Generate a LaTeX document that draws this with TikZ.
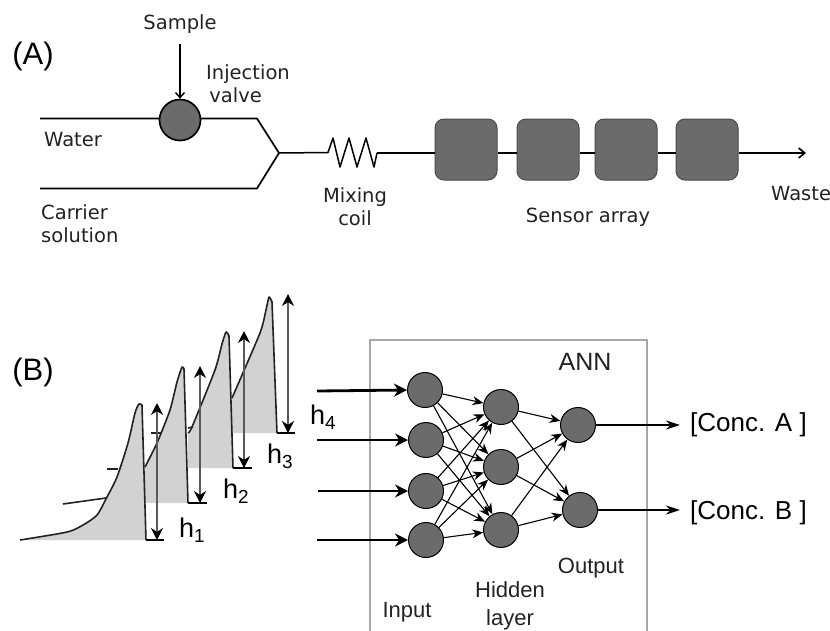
\documentclass[tikz,border=0pt]{standalone}
\usepackage{fontspec}
\setmainfont{Liberation Sans}
\newfontfamily\vfont{DejaVu Sans}
\usetikzlibrary{arrows.meta}
\definecolor{nodegrey}{HTML}{6B6B6B}
\definecolor{peakgrey}{HTML}{D2D2D2}
\definecolor{boxgrey}{HTML}{A8A8A8}
\definecolor{inkc}{HTML}{222222}
\tikzset{
  lbl/.style={inner sep=0pt,text=inkc,font=\vfont\fontsize{19.5}{23}\selectfont,align=left},
  alab/.style={inner sep=0pt,text=black,font=\fontsize{31}{34}\selectfont},
  annlab/.style={inner sep=0pt,text=inkc,font=\fontsize{22}{28}\selectfont,align=center},
  annttl/.style={inner sep=0pt,text=inkc,font=\fontsize{25}{28}\selectfont},
  conc/.style={inner sep=0pt,text=black,anchor=west,font=\fontsize{26}{30}\selectfont},
  hlab/.style={inner sep=0pt,text=black,anchor=west,font=\fontsize{27}{30}\selectfont},
  pipe/.style={draw=black,line width=1.7pt,line join=round},
  neuron/.style={circle,draw=black,fill=nodegrey,line width=1pt,minimum size=35pt,inner sep=0pt},
  valve/.style={circle,draw=black,fill=nodegrey,line width=1.7pt,minimum size=41pt,inner sep=0pt},
  sensor/.style={rounded corners=9pt,draw=black!70,fill=nodegrey,line width=1pt,minimum width=62pt,minimum height=61pt,inner sep=0pt},
  syn/.style={draw=black,line width=1.1pt,-{Stealth[length=11pt,width=9pt]}},
  inln/.style={draw=black,-{Stealth[length=13pt,width=13pt]}},
  outln/.style={draw=black,-{Stealth[length=14pt,width=9pt]}},
  peak/.style={fill=peakgrey,draw=none},
  curve/.style={draw=inkc,line width=1.6pt,line join=round},
  base/.style={draw=black,line width=1.8pt},
  harrow/.style={draw=black!65,line width=1.3pt,{Stealth[length=12pt,width=12pt,color=black]}-{Stealth[length=12pt,width=12pt,color=black]}},
}
\newcommand{\peakone}{plot[smooth,tension=0.45] coordinates {(20,540) (67,532) (83,525) (97,515) (107,497) (117,477) (128,443) (135,413) (139,404) (142,405)} -- (146,540)}
\newcommand{\peaktwo}{plot[smooth,tension=0.35] coordinates {(145,467) (157,443) (170,410) (177,382) (182,367) (184,369)} -- (188,503)}
\newcommand{\peakthree}{plot[smooth,tension=0.35] coordinates {(188,433) (192,427) (215,370) (222,344) (226,332) (229,336)} -- (233,468)}
\newcommand{\peakfour}{plot[smooth,tension=0.35] coordinates {(232,398) (260,333) (266,310) (269,297) (272,302)} -- (277,433)}
\begin{document}
\begin{tikzpicture}[x=1pt,y=-1pt]
\useasboundingbox (0,0) rectangle (830,630);
% ---------- Part A
\node[alab] (labA) at (33,56) {(A)};
\node[lbl] (sample) at (180,24) {Sample};
\node[lbl,anchor=west] (inj) at (206,84) {Injection\\\,valve};
\node[lbl,anchor=west] (water) at (44,140) {Water};
\node[lbl,anchor=west] (carrier) at (41,224) {Carrier\\solution};
\node[lbl,align=center] (mixing) at (355,207) {Mixing\\coil};
\node[lbl] (sarr) at (588,217) {Sensor array};
\node[lbl,anchor=west] (waste) at (771,194) {Waste};
\coordinate (wIn) at (40,118.5);
\coordinate (cIn) at (40,188.5);
\coordinate (wBend) at (257,118.5);
\coordinate (cBend) at (257,188.5);
\coordinate (join) at (279,153);
\coordinate (wasteEnd) at (806,153);
\coordinate (sampleEnd) at (180,44);
\draw[pipe] (wIn) -- (wBend) -- (join);
\draw[pipe] (cIn) -- (cBend) -- (join);
\node[valve] (valveN) at (180,120) {};
\draw[draw=black,line width=1.5pt,-{Straight Barb[length=5pt,width=9pt]}] (sampleEnd) -- (valveN.north);
\draw[pipe,line width=1.5pt] (join) -- (328,152.5) -- (333,138) -- (340,167) -- (349,138) -- (357,167) -- (366,138) -- (374,167) -- (377,153) coordinate (coilEnd);
\node[sensor] (s1) at (466,149.5) {};
\node[sensor] (s2) at (548,149.5) {};
\node[sensor] (s3) at (626,149.5) {};
\node[sensor] (s4) at (707,149.5) {};
\draw[pipe] (coilEnd) -- (s1.west|-coilEnd);
\draw[pipe] (s1.east|-coilEnd) -- (s2.west|-coilEnd);
\draw[pipe] (s2.east|-coilEnd) -- (s3.west|-coilEnd);
\draw[pipe] (s3.east|-coilEnd) -- (s4.west|-coilEnd);
\draw[pipe,-{Straight Barb[length=6pt,width=10pt]}] (s4.east|-coilEnd) -- (wasteEnd);
% ---------- Part B: peaks
\node[alab] (labB) at (33,372) {(B)};
\fill[peak] \peakfour -- (232,433) -- cycle;
\fill[peak] \peakthree -- (188,468) -- cycle;
\fill[peak] \peaktwo -- (145,503) -- cycle;
\fill[peak] \peakone -- cycle;
\draw[curve] (63,504) -- (106,498);
\draw[curve] (107,469) -- (118,469);
\draw[curve] (151,433) -- (161,433);
\draw[curve] (188,428) -- (193,427);
\draw[curve] \peakone;
\draw[curve] \peaktwo;
\draw[curve] \peakthree;
\draw[curve] \peakfour;
\draw[base] (146,540) -- (164,540);
\draw[base] (188,503) -- (207,503);
\draw[base] (233,468) -- (252,468);
\draw[base] (277,433) -- (295,433);
\draw[harrow] (157,403) -- (157,540);
\draw[harrow] (200,366) -- (200,503);
\draw[harrow] (244,331) -- (244,468);
\draw[harrow] (288,294) -- (288,433);
\node[hlab] (h1) at (179,530) {h\textsubscript{1}};
\node[hlab] (h2) at (223,491) {h\textsubscript{2}};
\node[hlab] (h3) at (267,456) {h\textsubscript{3}};
\node[hlab] (h4) at (310,417) {h\textsubscript{4}};
% ---------- Part B: ANN
\draw[draw=boxgrey,line width=1.5pt] (370,631) -- (370,340) -- (647,340) -- (647,631);
\node[annttl] (ann) at (585,362) {ANN};
\node[annlab] (inp) at (407,612) {Input};
\node[annlab] (hid) at (510,606) {Hidden\\layer};
\node[annlab] (outp) at (591,568) {Output};
\node[neuron] (i1) at (425,390) {};
\node[neuron] (i2) at (426,440) {};
\node[neuron] (i3) at (426,491) {};
\node[neuron] (i4) at (426,540) {};
\node[neuron] (m1) at (501,407) {};
\node[neuron] (m2) at (501,467) {};
\node[neuron] (m3) at (501,530) {};
\node[neuron] (o1) at (578,425) {};
\node[neuron] (o2) at (580,510) {};
\coordinate (f1) at (317,391);
\coordinate (f2) at (317,440);
\coordinate (f3) at (318,491);
\coordinate (f4) at (317,540);
\draw[inln,line width=2.8pt] (f1) -- (i1.west);
\draw[inln,line width=1.5pt] (f2) -- (i2.west);
\draw[inln,line width=1.7pt] (f3) -- (i3.west);
\draw[inln,line width=2.8pt] (f4) -- (i4.west);
\foreach \a in {i1,i2,i3,i4}\foreach \b in {m1,m2,m3}{\draw[syn] (\a) -- (\b);}
\foreach \a in {m1,m2,m3}\foreach \b in {o1,o2}{\draw[syn] (\a) -- (\b);}
\node[conc] (ca) at (690,425) {[Conc. A ]};
\node[conc] (cb) at (690,513) {[Conc. B ]};
\coordinate (ae) at (680,425);
\coordinate (be) at (680,510);
\draw[outln,line width=1.6pt] (o1) -- (ae);
\draw[outln,line width=2.3pt] (o2) -- (be);
\end{tikzpicture}
\end{document}
